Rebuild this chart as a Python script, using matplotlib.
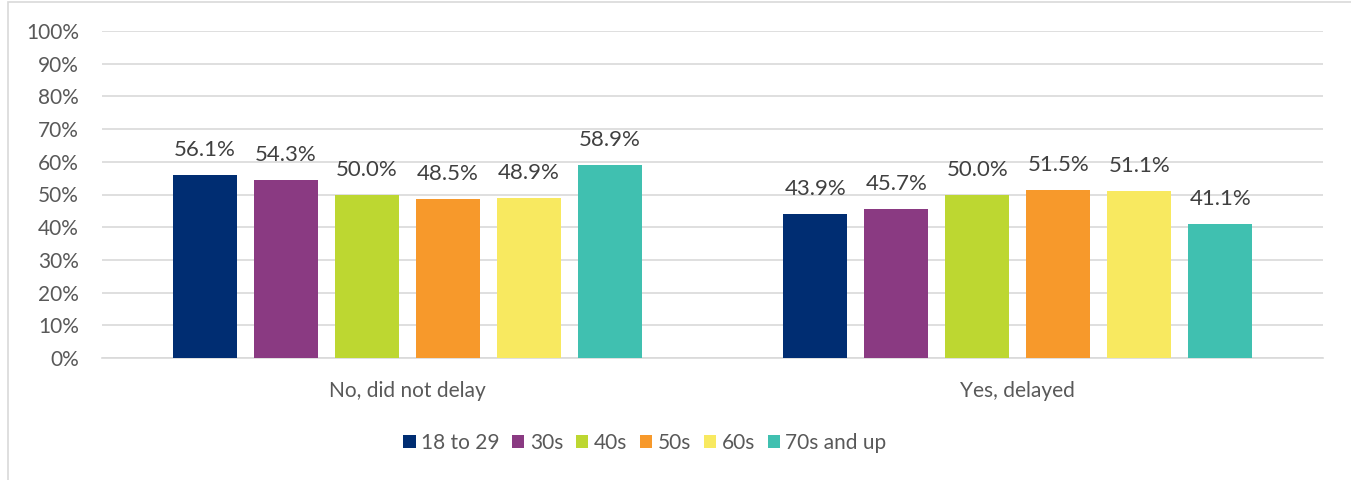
import matplotlib
matplotlib.use('agg')
import matplotlib.pyplot as plt
import numpy as np
from matplotlib.patches import Rectangle

categories = ['No, did not delay', 'Yes, delayed']
groups = ['18 to 29', '30s', '40s', '50s', '60s', '70s and up']
values = [
    [56.1, 43.9],
    [54.3, 45.7],
    [50.0, 50.0],
    [48.5, 51.5],
    [48.9, 51.1],
    [58.9, 41.1],
]
colors = ['#002D72', '#8A3A82', '#BDD731', '#F7992B', '#F8E960', '#40C0B0']
yticks = list(range(0, 101, 10))

plt.rcParams['font.family'] = ['Lato', 'DejaVu Sans']

fig = plt.figure(figsize=(13.51, 4.8), dpi=100)
ax = fig.add_axes([102 / 1351, 1 - 358 / 480, (1323 - 102) / 1351, (358 - 31) / 480])

# chart border (outer frame, cut on the right)
fig.patches.append(Rectangle((8 / 1351, -0.1), 1.2, 1 - 2 / 480 + 0.1, transform=fig.transFigure,
                             fill=False, edgecolor='#d9d9d9', linewidth=1.2))

x = np.arange(len(categories))
width = 0.105
step = 0.1327
for i, (g, vals) in enumerate(zip(groups, values)):
    pos = x + (i - 2.5) * step
    bars = ax.bar(pos, vals, width, color=colors[i], label=g, zorder=3)
    for b, v in zip(bars, vals):
        ax.annotate('%.1f%%' % v, (b.get_x() + b.get_width() / 2, v), xytext=(0, 18),
                    textcoords='offset points', ha='center', va='center',
                    fontsize=16, color='#404040')

ax.set_xlim(-0.5, 1.5)
ax.set_ylim(0, 100)
ax.set_yticks(yticks)
ax.set_yticklabels(['%d%%' % t for t in yticks])
ax.set_xticks(x)
ax.set_xticklabels(categories)
ax.grid(axis='y', color='#d9d9d9', linewidth=1.2, zorder=0)
for sp in ['top', 'right', 'left']:
    ax.spines[sp].set_visible(False)
ax.spines['bottom'].set_color('#d9d9d9')
ax.spines['bottom'].set_linewidth(1.2)
ax.tick_params(axis='both', length=0, labelsize=15, colors='#595959')
ax.tick_params(axis='y', pad=16.5)
ax.tick_params(axis='x', pad=16.5)

leg = fig.legend(loc='center', bbox_to_anchor=(645 / 1351, 1 - 443 / 480), ncol=6, frameon=False,
                 fontsize=15, handlelength=0.58, handleheight=0.58, handletextpad=0.28,
                 columnspacing=0.6)
for t in leg.get_texts():
    t.set_color('#595959')

fig.savefig('out.png', dpi=100)
